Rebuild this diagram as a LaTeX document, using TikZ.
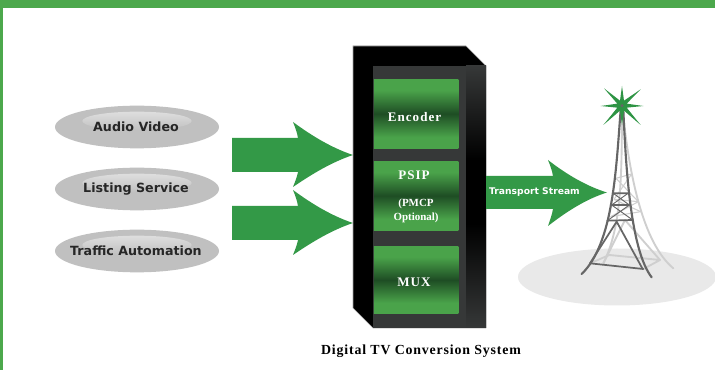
\documentclass[tikz,border=0pt]{standalone}
\usepackage{fontspec}
\setmainfont{Liberation Serif}
\setsansfont{DejaVu Sans}
\usetikzlibrary{shapes.geometric}
\definecolor{bargreen}{HTML}{4CA84C}
\definecolor{arrowgreen}{HTML}{339947}
\definecolor{modgreen}{HTML}{4AA34A}
\definecolor{moddark}{HTML}{1E4D24}
\definecolor{panel}{HTML}{363838}
\definecolor{pillgrey}{HTML}{C0C0C0}
\definecolor{pilllight}{HTML}{DEDEDE}
\definecolor{groundgrey}{HTML}{E9E9E9}
\definecolor{towerdark}{HTML}{666666}
\definecolor{towerlight}{HTML}{CFCFCF}
\definecolor{stargreen}{HTML}{2E9444}
\pgfdeclareverticalshading{modshade}{100bp}{
  color(0bp)=(modgreen);color(25bp)=(modgreen);color(33bp)=(modgreen);
  color(50bp)=(moddark);color(67bp)=(modgreen);color(75bp)=(modgreen);color(100bp)=(modgreen)}
\pgfdeclareverticalshading{sideshade}{100bp}{
  color(0bp)=(panel);color(25bp)=(panel);color(45bp)=(black);color(57bp)=(black);
  color(75bp)=(panel);color(100bp)=(panel)}
\tikzset{
  pill/.style={ellipse,fill=pillgrey,minimum width=123pt,minimum height=32pt,inner sep=0pt},
  pillshine/.style={ellipse,top color=pilllight,bottom color=pillgrey,draw=none,minimum width=82pt,minimum height=14pt,inner sep=0pt},
  pilltext/.style={font=\sffamily\bfseries\fontsize{9.5}{11}\selectfont,text=black!85,inner sep=0pt},
  module/.style={shading=modshade,minimum width=63.4pt,inner sep=0pt,anchor=north west},
  modtext/.style={font=\bfseries\fontsize{9.8}{11}\selectfont\addfontfeature{LetterSpace=8},text=white,inner sep=0pt,align=center},
  bigarrow/.style={fill=arrowgreen},
  towerbold/.style={draw=towerdark,line width=1.3pt,line cap=round},
  towerfine/.style={draw=towerdark,line width=.7pt},
  towerback/.style={draw=towerlight,line width=1.4pt,line cap=round},
  towerbackfine/.style={draw=towerlight,line width=.8pt}
}
\begin{document}
\begin{tikzpicture}[x=.75pt,y=-.75pt]
\useasboundingbox (0,0) rectangle (715,370);
\fill[white] (0,0) rectangle (715,370);
% frame
\fill[bargreen] (0,0) rectangle (715,8.5);
\fill[bargreen] (0,0) rectangle (3,370);
% source ellipses
\node[pill] (audio) at (137,127) {};
\node[pillshine] (audioshine) at (137,121) {};
\node[pilltext] (audiot) at (136,127) {Audio Video};
\node[pill] (listing) at (137,189) {};
\node[pillshine] (listingshine) at (137,183) {};
\node[pilltext] (listingt) at (136,189) {Listing Service};
\node[pill] (traffic) at (137,251) {};
\node[pillshine] (trafficshine) at (137,245) {};
\node[pilltext] (traffict) at (136,251) {Traffic Automation};
% input arrows
\fill[bigarrow] (232,138) -- (298,138) .. controls (297,132) and (295,127) .. (293,122)
  .. controls (312,136) and (332,148) .. (353,155)
  .. controls (332,162) and (312,174) .. (293,187)
  .. controls (295,182) and (297,177) .. (298,172) -- (232,172) -- cycle;
\fill[bigarrow] (232,206) -- (298,206) .. controls (297,200) and (295,195) .. (293,190)
  .. controls (312,204) and (332,216) .. (353,223)
  .. controls (332,230) and (312,242) .. (293,255)
  .. controls (295,250) and (297,245) .. (298,240) -- (232,240) -- cycle;
% cabinet
\fill[black] (353,46) -- (466,46) -- (486,66) -- (486,328) -- (373,328) -- (353,308) -- cycle;
\draw[black!35,line width=.4pt] (486,328) -- (373,328) -- (353,308) -- (353,46) -- (466,46) -- (486,66);
\fill[panel] (373,66) rectangle (486,328);
\shade[shading=sideshade] (466,66) rectangle (486,328);
% modules
\node[module,minimum height=51.7pt] (encoder) at (373.6,79) {};
\node[module,minimum height=51.7pt] (psip) at (373.6,161) {};
\node[module,minimum height=50.5pt] (mux) at (373.6,246) {};
\node[modtext] (encodert) at (414.5,117) {Encoder};
\node[modtext] (psipt) at (414,175) {PSIP};
\node[modtext,font=\bfseries\fontsize{8.2}{10.5}\selectfont] (pmcpt) at (416,211) {(PMCP\\Optional)};
\node[modtext] (muxt) at (414,282) {MUX};
% output arrow
\fill[bigarrow] (486,176) -- (553,176) .. controls (552,170) and (550,165) .. (548,160)
  .. controls (566,174) and (586,186) .. (607,192.5)
  .. controls (586,199) and (566,212) .. (548,226)
  .. controls (550,220) and (552,215) .. (553,209) -- (486,209) -- cycle;
\node[font=\sffamily\bfseries\fontsize{6.9}{8}\selectfont,text=white,inner sep=0pt] (streamt) at (534.5,192) {Transport Stream};
% ground
\fill[groundgrey] (617,277) ellipse [x radius=99,y radius=28.5];
% tower
\begin{scope}[shift={(510,70)},x=.25pt,y=-.25pt]
  % back legs
  \draw[towerback] (338,120) .. controls (358,320) and (400,520) .. (490,595);
  \draw[towerback] (336,120) .. controls (335,320) and (335,470) .. (280,580);
  \draw[towerbackfine] (318,325) -- (365,312) (312,388) -- (385,395) (302,440) -- (392,425);
  \draw[towerbackfine] (318,325) -- (385,395) (365,312) -- (312,388) (312,388) -- (392,425) (385,395) -- (302,440);
  \draw[towerback] (298,555) -- (450,570) (450,570) -- (400,597) (298,555) -- (240,580);
  \draw[towerback] (345,450) -- (280,580) (345,450) -- (450,570);
  % front legs
  \draw[towerbold,line width=1.6pt] (332,120) .. controls (318,300) and (310,520) .. (215,612);
  \draw[towerbold,line width=1.6pt] (340,120) .. controls (348,300) and (362,540) .. (425,622);
  \draw[towerbold] (310,370) -- (354,370) (305,405) -- (358,405) (292,452) -- (368,450);
  \draw[towerfine] (310,370) -- (358,405) (354,370) -- (305,405) (305,405) -- (368,450) (358,405) -- (292,452);
  \draw[towerbold] (320,455) -- (240,580) (320,455) -- (398,597);
  \draw[towerbold] (240,580) -- (400,597);
  % star
  \fill[stargreen] (336,48) -- (342,92) -- (392,58) -- (350,101) -- (400,108) -- (350,113)
    -- (392,165) -- (342,122) -- (336,165) -- (330,122) -- (280,165) -- (322,113)
    -- (272,108) -- (322,101) -- (282,55) -- (330,92) -- cycle;
  \fill[towerdark] (336,107) circle [radius=5];
\end{scope}
% caption
\node[font=\bfseries\fontsize{10.4}{12}\selectfont\addfontfeature{LetterSpace=6},inner sep=0pt] (caption) at (421,351) {Digital TV Conversion System};
\end{tikzpicture}
\end{document}
